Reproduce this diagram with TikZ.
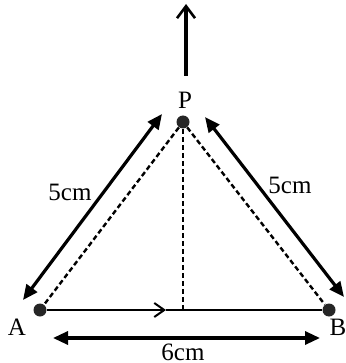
\documentclass[tikz,border=0pt]{standalone}
\usepackage{fontspec}
\setmainfont{Liberation Serif}
\usetikzlibrary{arrows.meta}

\begin{document}
\begin{tikzpicture}[x=0.5pt,y=-0.5pt,
  font=\fontsize{12.5}{15}\selectfont,
  dot/.style={circle, fill=black!85, inner sep=0pt, minimum size=6.5pt},
  dist/.style={{Triangle[length=7.5pt,width=6.5pt]}-{Triangle[length=7.5pt,width=6.5pt]}, line width=1.6pt},
  barb/.style={-{Straight Barb[length=5pt,width=7pt,line width=1pt]}},
  bigbarb/.style={-{Straight Barb[length=6pt,width=9pt,line width=1.3pt]}},
  guide/.style={dashed, dash pattern=on 2.5pt off 1.5pt, line width=1.2pt}]
                        \useasboundingbox (0,0) rectangle (345,363);

                        % Nodes
                        \node[dot] (A) at (40,310) {};
                        \node[dot] (B) at (329,310) {};
                        \node[dot] (P) at (183,122) {};
                        \node (labP) at (185,100) {P};
                        \node (labA) at (17,327) {A};
                        \node (labB) at (338,327) {B};
                        \node (labPA) at (70,192) {5cm};
                        \node (labPB) at (290,185) {5cm};
                        \node[inner sep=0pt] (labAB) at (183,352) {6cm};

                        \coordinate (foot) at (183,310);
                        \coordinate (mid) at (166,310);
                        \coordinate (up0) at (186,76);
                        \coordinate (up1) at (186,4);
                        \coordinate (pa0) at (23,300);
                        \coordinate (pa1) at (162,114);
                        \coordinate (pb0) at (205,117);
                        \coordinate (pb1) at (344,297);
                        \coordinate (ab0) at (53,338);
                        \coordinate (ab1) at (320,338);

                        % Edges
                        \draw[guide] (P) -- (A);
                        \draw[guide] (P) -- (B);
                        \draw[guide] (P) -- (foot);

                        \draw[line width=1.1pt, barb] (A) -- (mid);
                        \draw[line width=1.1pt] (mid) -- (B);

                        \draw[line width=1.8pt, bigbarb] (up0) -- (up1);

                        \draw[dist] (pa0) -- (pa1);
                        \draw[dist] (pb0) -- (pb1);
                        \draw[dist] (ab0) -- (ab1);
                    \end{tikzpicture}
\end{document}
